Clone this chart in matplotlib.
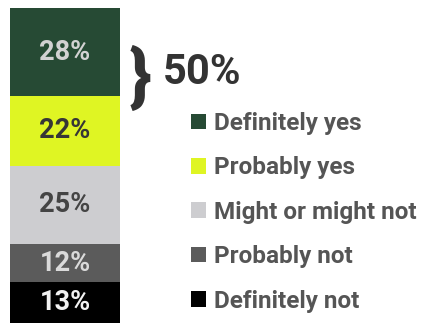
import matplotlib.pyplot as plt

# one stacked bar, bottom to top
categories = ["Definitely not", "Probably not", "Might or might not",
              "Probably yes", "Definitely yes"]
shares = [13, 12, 25, 22, 28]
colors = ["#000000", "#5b5b5b", "#cdcdd0", "#dff523", "#264a34"]
label_colors = ["#f2f2f2", "#dadada", "#444444", "#363636", "#d2d2d2"]
top_two_total = 50

plt.rcParams["font.family"] = ["Roboto", "DejaVu Sans"]

fig = plt.figure(figsize=(4.29, 3.23), dpi=100)
ax = fig.add_axes([10 / 429, 0, 110 / 429, 315 / 323])

bottom = 0
bars = []
for cat, val, col, lc in zip(categories, shares, colors, label_colors):
    b = ax.bar(0, val, width=1.0, bottom=bottom, color=col, label=cat)
    bars.append(b)
    ax.text(0, bottom + val / 2, f"{val}%", ha="center", va="center",
            fontsize=19.5, fontweight="bold", color=lc)
    bottom += val

ax.set_xlim(-0.5, 0.5)
ax.set_ylim(0, 100)
ax.axis("off")

# brace + combined top-two share
fig.text(140 / 429, 1 - 80 / 323, "}", ha="center", va="center",
         fontsize=50, fontweight="black", color="#333333")
fig.text(163 / 429, 1 - 73 / 323, f"{top_two_total}%", ha="left", va="center",
         fontsize=30, fontweight="bold", color="#333333")

handles = [b.patches[0] for b in bars][::-1]
leg = fig.legend(handles, categories[::-1], loc="upper left",
                 bbox_to_anchor=(191 / 429, 1 - 112 / 323), frameon=False,
                 fontsize=17.5, handlelength=0.6, handleheight=0.6,
                 handletextpad=0.35, labelspacing=0.88, borderpad=0,
                 borderaxespad=0)
for t in leg.get_texts():
    t.set_color("#555555")
    t.set_fontweight("bold")

fig.savefig("out.png", dpi=100)
